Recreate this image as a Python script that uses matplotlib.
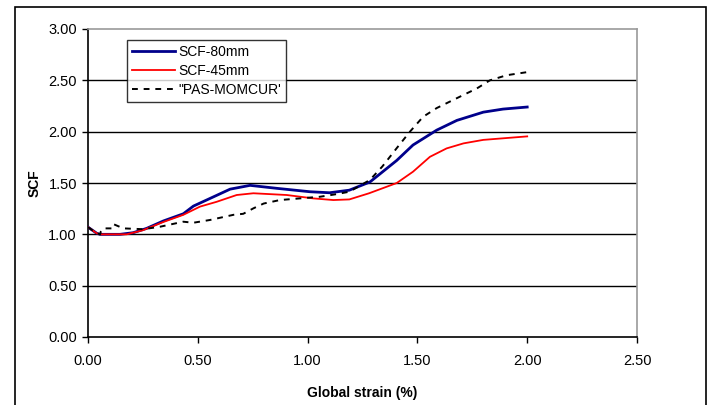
import matplotlib
matplotlib.use("Agg")
import matplotlib.pyplot as plt
from matplotlib.patches import Rectangle

plt.rcParams['font.family'] = ['Liberation Sans', 'DejaVu Sans']

# SCF-80mm
x80 = [0.0, 0.04, 0.055, 0.146, 0.206, 0.267, 0.343, 0.434, 0.48, 0.556, 0.647, 0.738,
       0.86, 1.01, 1.10, 1.19, 1.284, 1.406, 1.48, 1.588, 1.68, 1.80, 1.89, 2.0]
y80 = [1.07, 1.01, 1.0, 1.0, 1.016, 1.058, 1.13, 1.20, 1.275, 1.35, 1.44, 1.477,
       1.448, 1.415, 1.405, 1.43, 1.51, 1.72, 1.87, 2.015, 2.11, 2.19, 2.22, 2.24]

# SCF-45mm
x45 = [0.0, 0.04, 0.055, 0.176, 0.25, 0.343, 0.434, 0.51, 0.586, 0.677, 0.753, 0.905,
       1.026, 1.117, 1.19, 1.28, 1.406, 1.48, 1.557, 1.633, 1.71, 1.80, 2.0]
y45 = [1.07, 1.01, 1.0, 1.0, 1.04, 1.12, 1.19, 1.27, 1.317, 1.383, 1.40, 1.383,
       1.35, 1.334, 1.34, 1.40, 1.50, 1.61, 1.755, 1.837, 1.886, 1.92, 1.954]

# "PAS-MOMCUR'
xpm = [0.0, 0.04, 0.055, 0.058, 0.07, 0.108, 0.115, 0.161, 0.252, 0.328, 0.434, 0.48,
       0.556, 0.662, 0.707, 0.753, 0.80, 0.874, 0.965, 1.056, 1.133, 1.19, 1.284, 1.34,
       1.406, 1.466, 1.526, 1.588, 1.708, 1.77, 1.83, 1.907, 2.0]
ypm = [1.07, 1.01, 1.0, 1.025, 1.058, 1.058, 1.10, 1.058, 1.05, 1.074, 1.123, 1.113,
       1.14, 1.19, 1.20, 1.253, 1.30, 1.334, 1.35, 1.366, 1.392, 1.415, 1.53, 1.66,
       1.84, 2.0, 2.145, 2.23, 2.356, 2.42, 2.50, 2.55, 2.58]

xticks = [0.0, 0.5, 1.0, 1.5, 2.0, 2.5]
yticks = [0.0, 0.5, 1.0, 1.5, 2.0, 2.5, 3.0]

fig = plt.figure(figsize=(7.13, 4.05), dpi=100)
ax = fig.add_axes([88 / 713, 1 - 337 / 405, (637 - 88) / 713, (337 - 29) / 405])

# outer frame around the chart
fig.patches.append(Rectangle((15 / 713, -0.05), (706 - 15) / 713, 1.05 - 7 / 405,
                             transform=fig.transFigure, fill=False,
                             edgecolor='black', linewidth=1.2))

for yv in yticks[1:-1]:
    ax.axhline(yv, color='black', linewidth=1.0, zorder=1)

ax.plot(x80, y80, color='#00008B', linewidth=2.0, label='SCF-80mm', zorder=3)
ax.plot(x45, y45, color='#FF0000', linewidth=1.3, label='SCF-45mm', zorder=3)
ax.plot(xpm, ypm, color='black', linewidth=1.4, linestyle=(0, (3, 3)),
        label='"PAS-MOMCUR\'', zorder=4)

ax.set_xlim(0, 2.5)
ax.set_ylim(0, 3.0)
ax.set_xticks(xticks)
ax.set_yticks(yticks)
ax.set_xticklabels([f"{v:.2f}" for v in xticks])
ax.set_yticklabels([f"{v:.2f}" for v in yticks])
ax.tick_params(axis='both', labelsize=10.5, direction='out', length=4, width=1)
ax.tick_params(axis='x', pad=8)
ax.tick_params(axis='y', pad=4)

for s in ['top', 'right']:
    ax.spines[s].set_color('#999999')
    ax.spines[s].set_linewidth(1.2)
for s in ['left', 'bottom']:
    ax.spines[s].set_color('black')
    ax.spines[s].set_linewidth(1.2)

ax.set_xlabel('Global strain (%)', fontsize=10, fontweight='bold', labelpad=13)
ax.set_ylabel('SCF', fontsize=10, fontweight='bold', labelpad=5)

leg = ax.legend(loc='upper left', bbox_to_anchor=(0.071, 0.964), fontsize=10,
                frameon=True, fancybox=False, handlelength=3.1, handletextpad=0.25,
                borderpad=0.35, labelspacing=0.35, borderaxespad=0)
leg.get_frame().set_edgecolor('black')
leg.get_frame().set_linewidth(1.0)

fig.savefig('out.png', dpi=100)
